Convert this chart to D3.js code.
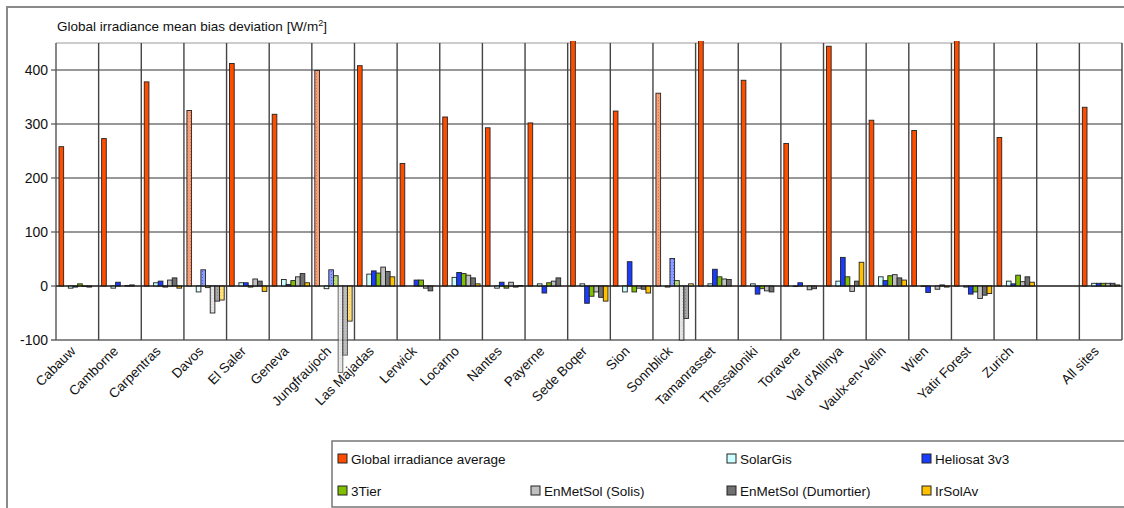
<!DOCTYPE html>
<html>
<head>
<meta charset="utf-8">
<script src="https://cdn.jsdelivr.net/npm/d3@7"></script>
<style>
  body { margin: 0; background: #fff; }
  svg { display: block; font-family: "Liberation Sans", Arial, sans-serif; }
</style>
</head>
<body>
<div id="chart"></div>
<script>

// sites (one empty slot before "All sites")
var sites = ["Cabauw", "Camborne", "Carpentras", "Davos", "El Saler", "Geneva", "Jungfraujoch",
  "Las Majadas", "Lerwick", "Locarno", "Nantes", "Payerne", "Sede Boqer", "Sion", "Sonnblick",
  "Tamanrasset", "Thessaloniki", "Toravere", "Val d'Allinya", "Vaulx-en-Velin", "Wien",
  "Yatir Forest", "Zurich", "", "All sites"];

// mountain sites drawn with the light dotted fill
var lightSites = ["Davos", "Jungfraujoch", "Sonnblick"];

var seriesNames = ["Global irradiance average", "SolarGis", "Heliosat 3v3", "3Tier",
  "EnMetSol (Solis)", "EnMetSol (Dumortier)", "IrSolAv"];

var globalAverage = [258, 273, 378, 325, 412, 318, 399, 408, 227, 313, 293, 302, 470, 324, 357,
  470, 381, 264, 444, 307, 288, 470, 275, null, 331];
var solarGis   = [-4, -4, 6, -11, 6, 12, -5, 22, 0, 16, -4, 4, 4, -11, -2, 4, 4, -1, 9, 17, -1, -2, 9, null, 5];
var heliosat   = [-2, 7, 9, 30, 6, 3, 30, 28, 11, 25, 7, -13, -32, 45, 51, 31, -15, 6, 53, 10, -12, -15, 4, null, 5];
var tier3      = [4, 0, -2, -3, -2, 10, 19, 24, 11, 23, -4, 6, -19, -11, 10, 17, -5, 0, 17, 19, 0, -11, 20, null, 5];
var solis      = [-1, 1, 11, -50, 13, 17, -160, 35, -4, 20, 7, 9, -11, -4, -100, 13, -9, -7, -10, 21, -6, -23, 8, null, 5];
var dumortier  = [-2, 2, 15, -28, 9, 23, -128, 27, -9, 15, -2, 15, -21, -6, -60, 12, -11, -5, 9, 15, 2, -17, 17, null, 5];
var irSolAv    = [0, 0, -4, -26, -10, 6, -65, 17, 0, 4, 1, 0, -28, -13, 4, 0, 0, 0, 44, 11, -2, -14, 7, null, 2];

var yTicks = [-100, 0, 100, 200, 300, 400];

var colors     = ["#ff4d00", "#ccffff", "#1a3cff", "#80c000", "#c0c0c0", "#707070", "#ffc000"];
var lightFills = ["#f6a07a", "#e8ffff", "#8c9dff", "#bcdc80", "#e4e4e4", "#a8a8a8", "#ffe080"];

var seriesValues = [globalAverage, solarGis, heliosat, tier3, solis, dumortier, irSolAv];
// slot of each series inside a group, slot 1 stays empty
var seriesSlot = [0, 2, 3, 4, 5, 6, 7];

var width = 1124, height = 508;
var plotLeft = 56, plotRight = 1122, plotTop = 43, plotBottom = 340;

var svg = d3.select("#chart").append("svg")
    .attr("width", width)
    .attr("height", height);

// dotted fills for the mountain sites
var defs = svg.append("defs");
colors.forEach(function (c, i) {
  var p = defs.append("pattern")
      .attr("id", "dots" + i)
      .attr("patternUnits", "userSpaceOnUse")
      .attr("width", 3).attr("height", 3);
  p.append("rect").attr("width", 3).attr("height", 3).attr("fill", lightFills[i]);
  p.append("rect").attr("x", 1).attr("y", 1).attr("width", 1).attr("height", 1)
      .attr("fill", c).attr("opacity", 0.6);
});

defs.append("clipPath").attr("id", "plotClip")
  .append("rect")
    .attr("x", plotLeft - 2).attr("y", plotTop - 2)
    .attr("width", plotRight - plotLeft + 4).attr("height", height);

var x = d3.scaleBand()
    .domain(d3.range(sites.length))
    .range([plotLeft, plotRight])
    .padding(0);

var bw = x.bandwidth();
var xSlot = d3.scaleBand()
    .domain(d3.range(8))
    .range([bw * 0.07, bw * 0.945])
    .padding(0);

var y = d3.scaleLinear()
    .domain([-100, 450])
    .range([plotBottom, plotTop]);

// outer frame
svg.append("path")
    .attr("d", "M7," + height + "V7H" + width)
    .attr("fill", "none")
    .attr("stroke", "#8a8a8a")
    .attr("stroke-width", 2);

// title
var title = svg.append("text")
    .attr("x", plotLeft + 1)
    .attr("y", 31)
    .attr("font-size", 13.5)
    .attr("fill", "#111")
    .text("Global irradiance mean bias deviation [W/m");
title.append("tspan").attr("dy", -5).attr("font-size", 9).text("2");
title.append("tspan").attr("dy", 5).text("]");

// horizontal grid
svg.append("line")
    .attr("x1", plotLeft).attr("x2", plotRight)
    .attr("y1", y(450)).attr("y2", y(450))
    .attr("stroke", "#9a9a9a").attr("stroke-width", 1.2);

svg.selectAll(".hgrid")
  .data(yTicks)
  .enter().append("line")
    .attr("class", "hgrid")
    .attr("x1", plotLeft - 5).attr("x2", plotRight)
    .attr("y1", function (d) { return y(d); })
    .attr("y2", function (d) { return y(d); })
    .attr("stroke", function (d) { return d === -100 ? "#8a8a8a" : "#333"; })
    .attr("stroke-width", function (d) { return d === -100 ? 1.8 : 1.2; });

svg.selectAll(".ylab")
  .data(yTicks)
  .enter().append("text")
    .attr("class", "ylab")
    .attr("x", plotLeft - 8)
    .attr("y", function (d) { return y(d) + 5; })
    .attr("text-anchor", "end")
    .attr("font-size", 14)
    .attr("fill", "#111")
    .text(function (d) { return d; });

// vertical grid at category edges
var edges = d3.range(sites.length + 1).map(function (i) { return plotLeft + i * bw; });
svg.selectAll(".vgrid")
  .data(edges)
  .enter().append("line")
    .attr("class", "vgrid")
    .attr("x1", function (d) { return d; })
    .attr("x2", function (d) { return d; })
    .attr("y1", plotTop).attr("y2", plotBottom)
    .attr("stroke", function (d, i) { return i === 0 ? "#555" : "#444"; })
    .attr("stroke-width", 1.4);

// bars
var bars = [];
seriesValues.forEach(function (vals, s) {
  vals.forEach(function (v, i) {
    if (v === null || v === 0) return;
    bars.push({ s: s, i: i, v: v });
  });
});

svg.append("g")
    .attr("clip-path", "url(#plotClip)")
  .selectAll("rect")
  .data(bars)
  .enter().append("rect")
    .attr("x", function (d) { return x(d.i) + xSlot(seriesSlot[d.s]); })
    .attr("width", xSlot.bandwidth())
    .attr("y", function (d) { return y(Math.max(0, d.v)); })
    .attr("height", function (d) { return Math.abs(y(d.v) - y(0)); })
    .attr("fill", function (d) {
      return lightSites.indexOf(sites[d.i]) >= 0 ? "url(#dots" + d.s + ")" : colors[d.s];
    })
    .attr("stroke", "#222")
    .attr("stroke-width", 0.9)
    .attr("opacity", function (d) { return d.v < -100 ? 0.75 : 1; });

// zero line on top
svg.append("line")
    .attr("x1", plotLeft).attr("x2", plotRight)
    .attr("y1", y(0)).attr("y2", y(0))
    .attr("stroke", "#111").attr("stroke-width", 1.2);

// x labels
svg.selectAll(".xlab")
  .data(sites)
  .enter().append("text")
    .attr("class", "xlab")
    .attr("transform", function (d, i) {
      return "translate(" + (x(i) + bw / 2 - 1) + "," + (plotBottom + 12) + ") rotate(-45)";
    })
    .attr("text-anchor", "end")
    .attr("font-size", 13.5)
    .attr("fill", "#111")
    .text(function (d) { return d; });

// legend
svg.append("path")
    .attr("d", "M" + width + ",441H332V507H" + width)
    .attr("fill", "none")
    .attr("stroke", "#777")
    .attr("stroke-width", 1.5);

var legendPos = [[338, 459], [727, 459], [922, 459], [338, 491], [531, 491], [727, 491], [922, 491]];
var leg = svg.selectAll(".leg")
  .data(seriesNames)
  .enter().append("g")
    .attr("class", "leg")
    .attr("transform", function (d, i) { return "translate(" + legendPos[i][0] + "," + legendPos[i][1] + ")"; });

leg.append("rect")
    .attr("x", 0).attr("y", -5)
    .attr("width", 9).attr("height", 9)
    .attr("fill", function (d, i) { return colors[i]; })
    .attr("stroke", "#222").attr("stroke-width", 1);

leg.append("text")
    .attr("x", 13).attr("y", 5)
    .attr("font-size", 13.5)
    .attr("fill", "#111")
    .text(function (d) { return d; });

</script>
</body>
</html>
